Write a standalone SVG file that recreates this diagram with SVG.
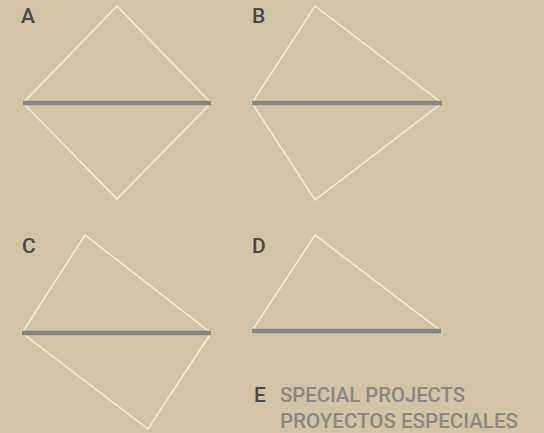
<svg xmlns="http://www.w3.org/2000/svg" width="544" height="433" viewBox="0 0 544 433">
<style>
.thin{fill:none;stroke:#f4eedf;stroke-width:1.5;stroke-linejoin:miter}
.bar{stroke:#878684;stroke-width:4.5}
.lbl{font-family:Roboto,"Liberation Sans",Arial,sans-serif;font-weight:500;font-size:21px;fill:#47474a}
.sub{font-family:Roboto,"Liberation Sans",Arial,sans-serif;font-weight:500;font-size:20px;fill:#8a8784}
</style>
<rect width="544" height="433" fill="#d3c4a5"/>
<g id="A">
<polyline class="thin" points="23,103 117,6 211,103"/>
<polyline class="thin" points="23,103 117,199 211,103"/>
<line class="bar" x1="23" y1="103" x2="211" y2="103"/>
<text class="lbl" x="21" y="23">A</text>
</g>
<g id="B">
<polyline class="thin" points="252,103 315,6 442,103"/>
<polyline class="thin" points="252,103 315,200 442,103"/>
<line class="bar" x1="252" y1="103" x2="442" y2="103"/>
<text class="lbl" x="252" y="23">B</text>
</g>
<g id="C">
<polyline class="thin" points="22,333 85,235 211,333"/>
<polyline class="thin" points="22,333 148,429 211,333"/>
<line class="bar" x1="22" y1="333" x2="211" y2="333"/>
<text class="lbl" x="22" y="253">C</text>
</g>
<g id="D">
<polyline class="thin" points="252,331 315,235 441,331"/>
<line class="bar" x1="252" y1="331" x2="441" y2="331"/>
<text class="lbl" x="252" y="253">D</text>
</g>
<g id="E">
<text class="lbl" x="254" y="402">E</text>
<text class="sub" x="280" y="402" textLength="185" lengthAdjust="spacingAndGlyphs">SPECIAL PROJECTS</text>
<text class="sub" x="280" y="428" textLength="238" lengthAdjust="spacingAndGlyphs">PROYECTOS ESPECIALES</text>
</g>
</svg>
